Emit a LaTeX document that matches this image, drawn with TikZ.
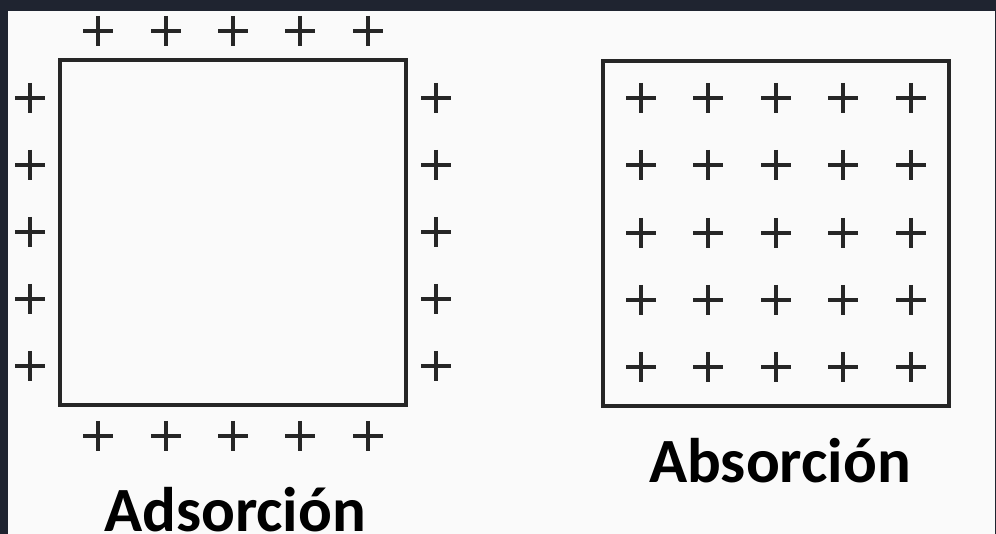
\documentclass[tikz,border=0pt]{standalone}
\usepackage{fontspec}
\setmainfont{Carlito}
\definecolor{frame}{HTML}{1F2430}
\definecolor{ink}{HTML}{262626}
\definecolor{paper}{HTML}{FAFAFA}
\begin{document}
\begin{tikzpicture}[x=1pt,y=-1pt,
  box/.style={draw=ink,line width=4pt,minimum width=346pt,minimum height=345pt,inner sep=0pt,outer sep=0pt},
  plusmark/.style={draw=ink,line width=4pt},
  label/.style={font=\bfseries\fontsize{63}{63}\selectfont,text=black,inner sep=0pt,anchor=base}]
\useasboundingbox (0,0) rectangle (996,534);
\fill[frame] (0,0) rectangle (996,534);
\fill[paper] (8,11) rectangle (995,534);
% squares
\node[box] (ad) at (233,232.5) {};
\node[box] (ab) at (776,233.5) {};
% adsorption pluses on the outside
\foreach \x in {98,166,233,300,368}{
  \path[plusmark] (\x,31) +(-15,0) -- +(15,0) +(0,-15) -- +(0,15);
  \path[plusmark] (\x,436) +(-15,0) -- +(15,0) +(0,-15) -- +(0,15);
}
\foreach \y in {98,165,232,299,366}{
  \path[plusmark] (30,\y) +(-15,0) -- +(15,0) +(0,-15) -- +(0,15);
  \path[plusmark] (436,\y) +(-15,0) -- +(15,0) +(0,-15) -- +(0,15);
}
% absorption pluses inside
\foreach \x in {641,708,776,843,911}{
  \foreach \y in {98,165,233,300,367}{
    \path[plusmark] (\x,\y) +(-15,0) -- +(15,0) +(0,-15) -- +(0,15);
  }
}
\node[label] (adl) at (235,531) {Adsorción};
\node[label] (abl) at (780,482) {Absorción};
\end{tikzpicture}
\end{document}
